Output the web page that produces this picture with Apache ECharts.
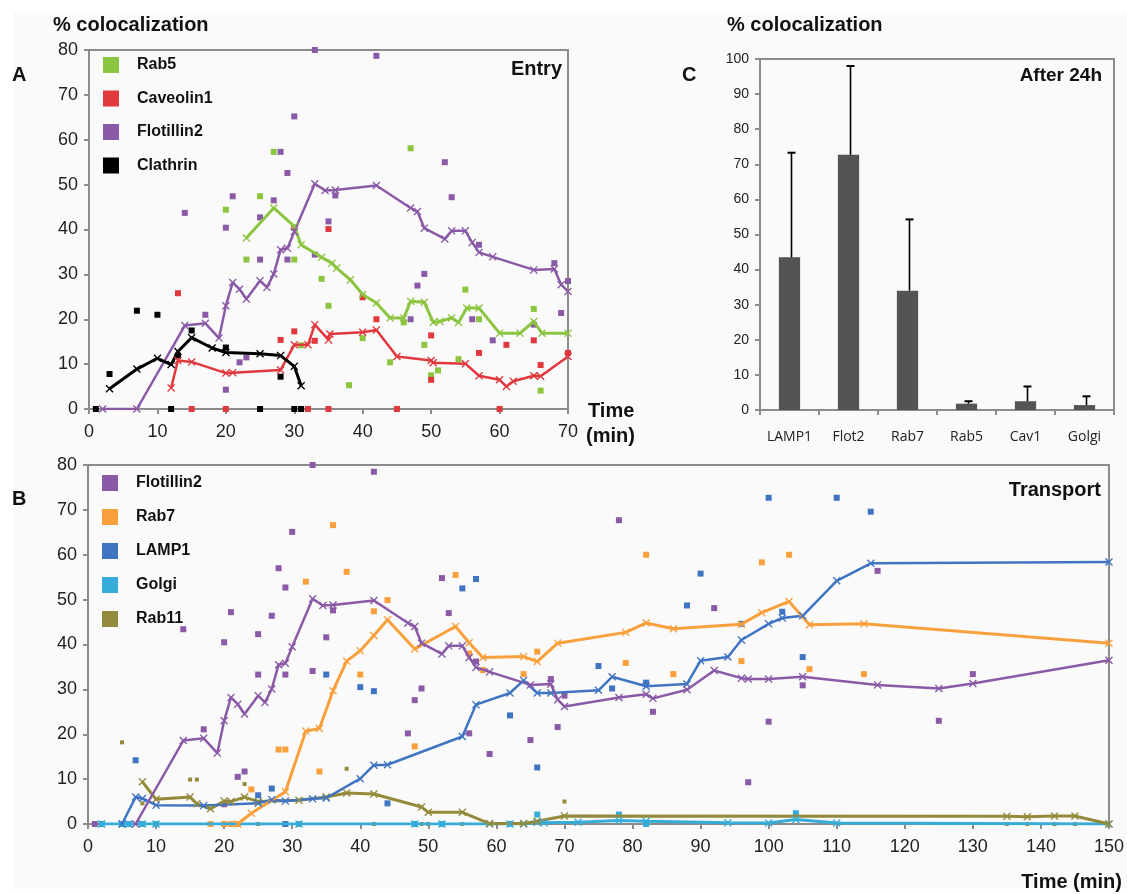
<!DOCTYPE html>
<html><head><meta charset="utf-8">
<script src="https://cdn.jsdelivr.net/npm/echarts@6/dist/echarts.min.js"></script>
<style>html,body{margin:0;padding:0;background:#fff}#c{width:1127px;height:894px}</style>
</head><body><div id="c"></div>
<script>
// ---------- Panel A (Entry) ----------
const rab5LineA = [[23,38.1],[27,44.8],[30,40.7],[31,36.6],[34,33.8],[35.5,32.5],[36.2,31.4],[38.2,28.8],[40,25.5],[42,23.6],[44,20.3],[46,20.3],[47,24],[49,23.8],[50.3,19.3],[51.3,19.5],[53,20.3],[54,19.3],[55.2,22.5],[57,22.5],[60,16.9],[63,16.9],[65,19.5],[66.2,16.9],[70,16.9]];
const cav1LineA = [[12,4.7],[13,10.8],[15,10.5],[20,8],[21,8.1],[28,8.7],[30,14.3],[32,14.3],[33,18.8],[35,15.4],[35.2,16.7],[40,17.1],[42,17.6],[45,11.7],[50,10.8],[50.3,10.3],[55,10.1],[57,7.4],[60,6.5],[61,5],[62,6.2],[65,7.4],[66,7.3],[70,11.7]];
const flot2LineA = [[2,0],[7,0],[14,18.6],[17,19.1],[19,15.8],[20,23],[21,28.2],[22,26.7],[23,24.5],[25,28.6],[26,27.1],[27,30.1],[28,35.5],[29,35.8],[30,39.5],[33,50.2],[34.5,48.7],[36,48.8],[42,49.8],[47,44.8],[48,44],[49,40.3],[52,37.9],[53,39.7],[55,39.7],[56,37.1],[57,34.9],[59,33.9],[65,31],[68,31.2],[69,27.7],[70,26.2]];
const clathLineA = [[3,4.5],[7,8.9],[10,11.3],[12,9.9],[13,12.8],[15,15.9],[18,13.6],[20,12.6],[25,12.3],[28,11.9],[30,9.5],[31,5.2]];
const rab5PtsA = [[27,57.3],[20,44.4],[25,47.4],[23,33.3],[30,33.3],[31,14.2],[34,29],[35,23],[38,5.3],[40,15.8],[44,10.4],[46,19.3],[49,14.3],[50,7.5],[51,8.6],[54,11.1],[55,26.6],[57,20],[65,22.3],[66,4.1],[47,58.1]];
const cav1PtsA = [[13,25.8],[15,0],[20,0],[28,15.4],[30,17.3],[30,40.4],[32,0],[33,15.2],[35,0],[35,40.1],[40,24.9],[42,20],[45,0],[50,16.4],[50,6.5],[57,12.5],[60,0],[61,14.3],[65,15.3],[66,9.8],[70,12.5]];
const flot2PtsA = [[33,80],[42,78.7],[30,65.2],[28,57.3],[29,52.6],[52,55],[14,43.7],[21,47.4],[27,46.5],[36,47.6],[53,47.2],[25,42.7],[20,40.4],[35,41.8],[25,33.3],[29,33.3],[33,34.4],[17,21],[22,10.4],[23,11.5],[20,4.3],[47,20],[48,27.5],[49,30.1],[56,20],[57,36.6],[59,15.3],[65,18.8],[68,32.5],[69,21.4],[70,28.5]];
const clathPtsA = [[1,0],[3,7.8],[7,21.9],[10,21],[12,0],[13,11.9],[15,17.5],[20,13.7],[25,0],[28,7.2],[30,0],[31,0]];

// ---------- Panel B (Transport) ----------
const flot2LineB = [[7,0],[14,18.6],[17,19.1],[19,15.8],[20,23],[21,28.2],[22,26.7],[23,24.5],[25,28.6],[26,27.1],[27,30.1],[28,35.5],[29,35.8],[30,39.5],[33,50.2],[34.5,48.7],[36,48.8],[42,49.8],[47,44.8],[48,44],[49,40.3],[52,37.9],[53,39.7],[55,39.7],[56,37.1],[57,34.9],[59,33.9],[65,31],[68,31.2],[69,27.7],[70,26.2],[78,28.2],[82,28.9],[83,28],[88,29.9],[92,34.2],[96,32.5],[97,32.3],[100,32.3],[105,32.8],[116,31],[125,30.2],[130,31.3],[150,36.5]];
const rab7LineB = [[22,0],[24,2.4],[29,7.2],[32,20.7],[34,21.3],[36,29.7],[38,36.3],[40,38.6],[42,42],[44,45.5],[48,39],[54,44],[56,40.4],[58,37.1],[64,37.3],[66,36.2],[69,40.3],[79,42.7],[82,44.8],[86,43.5],[96,44.5],[99,47.1],[103,49.6],[106,44.4],[114,44.6],[150,40.3]];
const lampLineB = [[5,0],[7,6],[8,5.7],[10,4.2],[17,4.1],[25,4.6],[27,5.4],[29,5.1],[33,5.6],[35,5.8],[40,10.1],[42,13.1],[44,13.2],[55,19.5],[57,26.6],[62,29.2],[64,32],[66,29.2],[68,29.2],[75,29.8],[77,32.8],[82,30.7],[88,31.2],[90,36.4],[94,37.2],[96,41],[100,44.6],[102,45.9],[105,46.4],[110,54.2],[115,58.1],[150,58.4]];
const golgiLineB = [[2,0],[5,0],[6,0],[8,0],[10,0],[31,0],[48,0],[52,0],[59,0],[62,0],[64,0],[66,0.4],[67,0.3],[72,0.4],[78,0.8],[82,0.6],[94,0.3],[100,0.2],[104,1],[110,0.2],[150,0]];
const rab11LineB = [[8,9.4],[10,5.5],[15,6],[16,4.5],[18,3.4],[20,5.1],[21,5],[23,6],[25,5],[31,5.3],[35,6],[38,6.9],[42,6.7],[49,3.8],[50,2.6],[55,2.6],[59,0.1],[64,0.1],[66,0.6],[70,1.8],[135,1.7],[138,1.6],[142,1.8],[145,1.8],[150,0]];
const flot2PtsB = [[1,0],[33,80],[42,78.5],[30,65.1],[28,57],[29,52.7],[21,47.2],[27,46.4],[14,43.4],[20,40.5],[25,42.3],[35,41.6],[36,47.6],[25,33.3],[29,33.3],[33,34.1],[17,21.1],[22,10.5],[23,11.7],[20,4.4],[78,67.7],[52,54.8],[53,47],[92,48.1],[57,36.2],[68,32.3],[70,28.6],[83,25],[49,30.2],[48,27.6],[47,20.2],[56,20.2],[65,18.7],[69,21.6],[59,15.6],[97,9.3],[116,56.4],[130,33.4],[105,30.9],[100,22.8],[125,23]];
const rab7PtsB = [[36,66.6],[38,56.2],[32,54],[42,47.4],[44,49.9],[40,33.3],[28,16.6],[29,16.6],[34,11.7],[24,7.7],[18,0],[20,0],[21,0],[22,0],[82,60],[54,55.5],[56,38],[58,34.3],[79,35.9],[64,33.4],[66,38.4],[86,33.4],[96,36.3],[48,17.3],[99,58.3],[103,60],[106,34.5],[114,33.4]];
const lampPtsB = [[35,33.3],[40,30.5],[42,29.6],[7,14.2],[27,7.9],[25,6.4],[29,0],[90,55.8],[55,52.5],[57,54.6],[88,48.7],[96,44.6],[75,35.2],[82,31.5],[77,30.2],[62,24.2],[66,12.6],[44,4.6],[100,72.7],[110,72.7],[115,69.6],[102,47.3],[105,37.2]];
const golgiPtsB = [[2,0],[5,0],[6,0],[8,0],[10,0],[31,0],[48,0],[52,0],[62,0],[66,2.1],[78,2.1],[82,0],[104,2.4]];
const rab11PtsB = [[5,18.2],[15,9.9],[16,9.9],[38,12.3],[23,8.9],[8,4.6],[70,5],[10,0],[25,0],[31,0],[42,0],[49,0],[50,0],[55,0],[135,0],[138,0],[142,0],[145,0]];

// ---------- Panel C (After 24h) ----------
const catsC = ['LAMP1','Flot2','Rab7','Rab5','Cav1','Golgi'];
const valsC = [43.5,72.7,34,1.8,2.5,1.4];
const errC  = [29.8,25.3,20.3,0.7,4.2,2.5];

const xTicksA = [0,70,10];
const xTicksB = [0,150,10];

const C = {green:'#8cc540', red:'#e0383d', purple:'#8a5aa6', black:'#000000', orange:'#f9a03d', blue:'#3f74c3', cyan:'#36acd8', olive:'#948a3b'};
const XSYM = 'path://M0,1.2L1.2,0L5,3.8L8.8,0L10,1.2L6.2,5L10,8.8L8.8,10L5,6.2L1.2,10L0,8.8L3.8,5Z';
const FONT = 'Liberation Sans, Arial, sans-serif';

function lineS(name, data, color, xi, yi, w){
  return {name, type:'line', data, xAxisIndex:xi, yAxisIndex:yi, symbol:XSYM, symbolSize:8, showSymbol:true,
    lineStyle:{color, width:w||2.5}, itemStyle:{color, opacity:1}, z:3, animation:false};
}
function ptsS(name, data, color, xi, yi, size){
  return {name, type:'scatter', data, xAxisIndex:xi, yAxisIndex:yi, symbol:'rect', symbolSize:size||6,
    itemStyle:{color, opacity:1}, z:2, animation:false};
}
const axisCol = '#8c8c8c';
function valAxis(gi, min, max, interval, fs, margin){
  return {type:'value', gridIndex:gi, min, max, interval,
    axisLine:{show:true, lineStyle:{color:axisCol, width:2}},
    axisTick:{show:true, length:5, lineStyle:{color:axisCol, width:2}},
    splitLine:{show:false},
    axisLabel:{fontSize:fs, color:'#222', fontFamily:FONT, margin}};
}

const chart = echarts.init(document.getElementById('c'), null, {renderer:'canvas'});
const option = {
  animation:false,
  backgroundColor:'#ffffff',
  graphic:[
    {type:'rect', z:-10, shape:{x:13,y:13,width:1114,height:876}, style:{fill:'#fafafa'}, silent:true},
    {type:'text', style:{x:53, y:25, text:'% colocalization', font:'bold 20px '+FONT, fill:'#111', textVerticalAlign:'middle'}},
    {type:'text', style:{x:727, y:25, text:'% colocalization', font:'bold 20px '+FONT, fill:'#111', textVerticalAlign:'middle'}},
    {type:'text', style:{x:12, y:75, text:'A', font:'bold 20px '+FONT, fill:'#111', textVerticalAlign:'middle'}},
    {type:'text', style:{x:12, y:499, text:'B', font:'bold 20px '+FONT, fill:'#111', textVerticalAlign:'middle'}},
    {type:'text', style:{x:682, y:75, text:'C', font:'bold 20px '+FONT, fill:'#111', textVerticalAlign:'middle'}},
    {type:'text', style:{x:562, y:69, text:'Entry', font:'bold 20px '+FONT, fill:'#111', textAlign:'right', textVerticalAlign:'middle'}},
    {type:'text', style:{x:1102, y:76, text:'After 24h', font:'bold 19px '+FONT, fill:'#111', textAlign:'right', textVerticalAlign:'middle'}},
    {type:'text', style:{x:1101, y:490, text:'Transport', font:'bold 20px '+FONT, fill:'#111', textAlign:'right', textVerticalAlign:'middle'}},
    {type:'text', style:{x:588, y:411, text:'Time', font:'bold 20px '+FONT, fill:'#111', textVerticalAlign:'middle'}},
    {type:'text', style:{x:586, y:436, text:'(min)', font:'bold 20px '+FONT, fill:'#111', textVerticalAlign:'middle'}},
    {type:'text', style:{x:1122, y:882, text:'Time (min)', font:'bold 20px '+FONT, fill:'#111', textAlign:'right', textVerticalAlign:'middle'}}
  ],
  legend:[
    {orient:'vertical', left:103, top:57, itemWidth:16, itemHeight:16, itemGap:17.5, icon:'rect', padding:0,
     data:['Rab5','Caveolin1','Flotillin2','Clathrin'],
     itemStyle:{opacity:1},
     textStyle:{fontSize:16, fontWeight:'bold', color:'#111', fontFamily:FONT, padding:[0,0,0,13]}},
    {orient:'vertical', left:102, top:475, itemWidth:16, itemHeight:16, itemGap:18, icon:'rect', padding:0,
     data:['Flotillin2','Rab7','LAMP1','Golgi','Rab11'],
     itemStyle:{opacity:1},
     textStyle:{fontSize:16, fontWeight:'bold', color:'#111', fontFamily:FONT, padding:[0,0,0,13]}}
  ],
  grid:[
    {left:89, top:50, width:479, height:359, show:true, borderColor:axisCol, borderWidth:2, backgroundColor:'transparent'},
    {left:760, top:59, width:354, height:351, show:true, borderColor:axisCol, borderWidth:2, backgroundColor:'transparent'},
    {left:88, top:465, width:1021, height:359, show:true, borderColor:axisCol, borderWidth:2, backgroundColor:'transparent'}
  ],
  xAxis:[
    valAxis(0, xTicksA[0], xTicksA[1], xTicksA[2], 18, 14),
    {type:'category', gridIndex:1, data:catsC, axisLine:{show:true, lineStyle:{color:axisCol, width:2}},
     axisTick:{show:true, length:5, alignWithLabel:false, lineStyle:{color:axisCol, width:2}},
     axisLabel:{fontSize:14, color:'#222', fontFamily:'Open Sans, '+FONT, margin:20}},
    valAxis(2, xTicksB[0], xTicksB[1], xTicksB[2], 18, 14)
  ],
  yAxis:[
    valAxis(0, 0, 80, 10, 18, 11),
    valAxis(1, 0, 100, 10, 14, 11),
    valAxis(2, 0, 80, 10, 18, 11)
  ],
  series:[
    ptsS('Rab5', rab5PtsA, C.green, 0, 0),
    ptsS('Caveolin1', cav1PtsA, C.red, 0, 0),
    ptsS('Flotillin2', flot2PtsA, C.purple, 0, 0),
    ptsS('Clathrin', clathPtsA, C.black, 0, 0),
    lineS('Rab5', rab5LineA, C.green, 0, 0, 3),
    lineS('Caveolin1', cav1LineA, C.red, 0, 0),
    lineS('Flotillin2', flot2LineA, C.purple, 0, 0),
    lineS('Clathrin', clathLineA, C.black, 0, 0, 3),

    {name:'After 24h', type:'bar', xAxisIndex:1, yAxisIndex:1, data:valsC, barWidth:'36%', itemStyle:{color:'#555355'}, animation:false},
    {name:'err', type:'custom', xAxisIndex:1, yAxisIndex:1, z:10,
     data: catsC.map((c,i)=>[i, valsC[i], valsC[i]+errC[i]]),
     encode:{x:0, y:[1,2]},
     renderItem:(params, api)=>{
       const b = api.coord([api.value(0), api.value(1)]);
       const t = api.coord([api.value(0), api.value(2)]);
       const x = b[0] + 2;
       return {type:'group', children:[
         {type:'line', shape:{x1:x, y1:b[1], x2:x, y2:t[1]}, style:{stroke:'#000', lineWidth:1.6}},
         {type:'line', shape:{x1:x-4, y1:t[1], x2:x+4, y2:t[1]}, style:{stroke:'#000', lineWidth:2}}
       ]};
     }},

    ptsS('Flotillin2', flot2PtsB, C.purple, 2, 2, 6),
    ptsS('Rab7', rab7PtsB, C.orange, 2, 2, 6),
    ptsS('LAMP1', lampPtsB, C.blue, 2, 2, 6),
    ptsS('Golgi', golgiPtsB, C.cyan, 2, 2, 6),
    ptsS('Rab11', rab11PtsB, C.olive, 2, 2, 4),
    lineS('Golgi', golgiLineB, C.cyan, 2, 2, 3),
    lineS('Rab11', rab11LineB, C.olive, 2, 2, 3),
    lineS('LAMP1', lampLineB, C.blue, 2, 2, 2.5),
    lineS('Rab7', rab7LineB, C.orange, 2, 2, 3),
    lineS('Flotillin2', flot2LineB, C.purple, 2, 2, 2.5)
  ]
};
chart.setOption(option);
</script></body></html>
